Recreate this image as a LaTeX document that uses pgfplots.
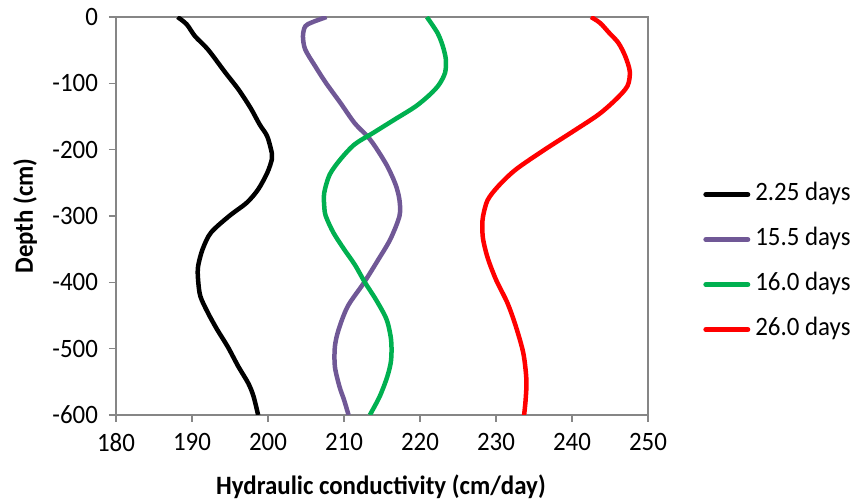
\documentclass[border=0pt]{standalone}
\usepackage{fontspec}
\setmainfont{Carlito}[FakeStretch=0.94]
\usepackage{pgfplots}
\pgfplotsset{compat=1.18}

\definecolor{kpurple}{RGB}{112,88,150}
\definecolor{kgreen}{RGB}{0,176,80}
\definecolor{kred}{RGB}{255,0,0}
\definecolor{axisgrey}{RGB}{134,134,134}

% Hydraulic conductivity profiles: conductivity (cm/day) vs depth (cm)
\pgfplotstableread{
k     z
188.1 0
189.3 -11
190.4 -29
192.1 -49
194.4 -84
196.1 -109
197.7 -137
198.9 -162
199.9 -180
200.5 -205
200.5 -215
199.9 -235
198.7 -260
197.2 -280
194.9 -300
192.5 -325
191.4 -350
190.8 -376
190.8 -396
191.1 -421
192.1 -446
193.3 -471
194.7 -497
196.1 -527
197.4 -552
198.1 -572
198.7 -600
}\dayA

\pgfplotstableread{
k     z
207.7 0
205.8 -8
204.9 -14
204.6 -29
204.9 -49
206.2 -74
207.6 -99
209.5 -129
211.4 -160
213.1 -180
214.2 -197
215.7 -225
216.8 -253
217.3 -276
217.3 -300
216.1 -335
214.5 -366
212.6 -401
210.5 -436
209.3 -471
208.8 -497
208.8 -527
209.4 -557
210.0 -577
210.6 -600
}\dayB

\pgfplotstableread{
k     z
220.9 0
222.3 -24
223.0 -44
223.4 -64
223.3 -84
222.5 -102
221.3 -117
219.4 -135
216.6 -155
213.8 -175
211.4 -192
209.5 -215
208.1 -238
207.4 -265
207.4 -285
207.6 -300
208.6 -325
210.0 -350
211.4 -373
212.8 -401
214.2 -426
215.6 -456
216.2 -487
216.2 -517
215.7 -542
214.7 -572
213.4 -600
}\dayC

\pgfplotstableread{
k     z
242.5 0
243.7 -9
244.9 -24
246.1 -39
247.0 -59
247.6 -82
247.3 -104
245.8 -124
243.5 -147
240.2 -172
236.4 -200
232.6 -230
230.3 -255
228.9 -276
228.3 -300
228.2 -315
228.3 -335
228.9 -363
230.0 -396
231.5 -431
232.6 -466
233.6 -507
234.0 -547
233.9 -577
233.7 -600
}\dayD

\begin{document}
\fontsize{26.5}{31}\selectfont
\begin{tikzpicture}
\useasboundingbox (-116pt,-85pt) rectangle (741pt,415pt);
\begin{axis}[
  at={(0pt,0pt)}, anchor=south west,
  scale only axis, width=532pt, height=398pt,
  xmin=180, xmax=250, ymin=-600, ymax=0,
  xtick={180,190,...,250}, ytick={-600,-500,...,0},
  xtick pos=bottom, ytick pos=left,
  tick align=outside, major tick length=7pt,
  axis line style={axisgrey, line width=1.4pt},
  every tick/.style={axisgrey, line width=1.4pt},
  /pgf/number format/assume math mode=true,
  tick label style={font=\fontsize{26.5}{31}\selectfont},
  xticklabel style={yshift=-2pt},
  yticklabel style={xshift=-2pt},
  xlabel={\textbf{Hydraulic conductivity (cm/day)}},
  ylabel={\textbf{Depth (cm)}},
  xlabel style={at={(axis description cs:0.498,-0.18)}, anchor=center},
  ylabel style={at={(axis description cs:-0.171,0.5)}, anchor=center, rotate=0},
  legend style={at={(1.098,0.384)}, anchor=west, draw=none, fill=none,
    row sep=22pt, cells={anchor=west},
    nodes={inner sep=0pt, text height=17pt, text depth=6pt},
    font=\fontsize{26.5}{31}\selectfont},
  /tikz/every odd column/.append style={column sep=5pt},
  legend image code/.code={\draw[#1, line width=5pt, line cap=round] (2.5pt,0pt) -- (44.5pt,0pt);},
  every axis plot/.append style={line width=4.5pt, smooth, no marks, line join=round},
]
\addplot[black]   table[x=k, y=z] {\dayA};
\addlegendentry{2.25 days}
\addplot[kpurple] table[x=k, y=z] {\dayB};
\addlegendentry{15.5 days}
\addplot[kgreen]  table[x=k, y=z] {\dayC};
\addlegendentry{16.0 days}
\addplot[kred]    table[x=k, y=z] {\dayD};
\addlegendentry{26.0 days}
\end{axis}
\end{tikzpicture}
\end{document}
